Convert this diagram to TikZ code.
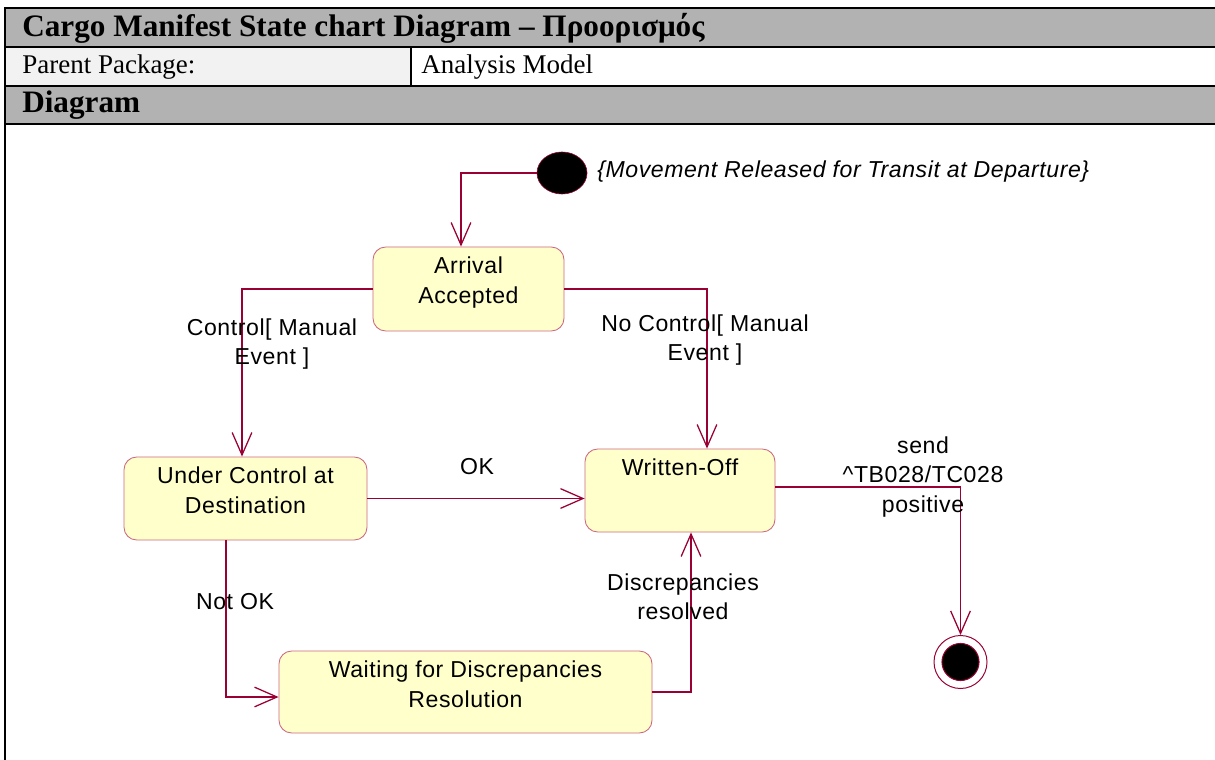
\documentclass[tikz,border=0pt]{standalone}
\usepackage{fontspec}
\setmainfont{Liberation Serif}
\newfontfamily\arialfont[LetterSpace=2.5]{Liberation Sans}
\usetikzlibrary{arrows.meta,calc,shapes.geometric}
\definecolor{wirered}{RGB}{153,0,51}
\definecolor{boxrose}{RGB}{204,102,128}
\definecolor{boxcream}{RGB}{255,255,204}
\definecolor{rowgray}{RGB}{178,178,178}
\definecolor{keygray}{RGB}{242,242,242}
\newlength{\pxu}
\setlength{\pxu}{0.025cm}
\newcommand{\stlines}[3]{\parbox[t][#2\pxu][t]{#1\pxu}{\centering\vspace*{4.6pt}\strut#3}}
\begin{document}
\begin{tikzpicture}[x=0.025cm,y=-0.025cm,
  state/.style={draw=boxrose,fill=boxcream,line width=0.6pt,rounded corners=9pt,inner sep=0pt,font=\arialfont\fontsize{16.4}{20.8}\selectfont},
  wire/.style={draw=wirered,line width=0.9pt,-{Straight Barb[length=16pt,width=14pt]}},
  lbl/.style={font=\arialfont\fontsize{16.4}{20.8}\selectfont,align=center,inner sep=0pt},
  cell/.style={anchor=west,inner sep=0pt,font=\fontsize{19.2}{23}\selectfont},
  headcell/.style={cell,font=\fontsize{22.2}{26}\selectfont\bfseries}]
\useasboundingbox (0,0) rectangle (1215,760);
\fill[rowgray] (5,8) rectangle (1215,47);
\fill[keygray] (5,47) rectangle (411,86);
\fill[rowgray] (5,86) rectangle (1215,124);
\draw[line width=1.5pt] (5,760) -- (5,8) -- (1215,8);
\draw[line width=1.5pt] (5,47) -- (1215,47) (5,86) -- (1215,86) (5,124) -- (1215,124) (411,47) -- (411,86);
\node[headcell] (title) at (22,28) {Cargo Manifest State chart Diagram – Προορισμός};
\node[cell] (pkgkey) at (22,67) {Parent Package:};
\node[cell] (pkgval) at (421,67) {Analysis Model};
\node[headcell] (diaghead) at (22,105) {Diagram};

\node[ellipse,fill=black,draw=wirered,minimum width=35.6pt,minimum height=29.9pt,inner sep=0pt] (init) at (562,173) {};
\node[lbl,anchor=west] (relnote) at (597,172) {\itshape\{Movement Released for Transit at Departure\}};
\node[state] (arrival) at (468.5,289) {\stlines{191}{84}{Arrival\\Accepted}};
\node[state] (underctl) at (245.5,498.5) {\stlines{243}{83}{Under Control at\\Destination}};
\node[state] (written) at (680,490.5) {\stlines{190}{83}{Written-Off}};
\node[state] (waiting) at (465.5,692) {\stlines{373}{82}{Waiting for Discrepancies\\Resolution}};
\node[circle,draw=wirered,line width=0.7pt,minimum size=37.7pt,inner sep=0pt,
  path picture={\filldraw[fill=black,draw=wirered] (path picture bounding box.center) circle (13.2pt);}] (final) at (960.5,662) {};

\draw[wire] (init.west) -| ($(arrival.north)+(-7.5,0)$);
\draw[wire] (arrival.west) -| ($(underctl.north)+(-3.5,0)$);
\draw[wire] (arrival.east) -| ($(written.north)+(27,0)$);
\draw[wire] (underctl.east) -- (underctl.east -| written.west);
\draw[wire] ($(underctl.south)+(-19.5,0)$) |- ($(waiting.west)+(0,5)$);
\draw[wire] (waiting.east) -| ($(written.south)+(11,0)$);
\draw[wire] ($(written.east)+(0,-3.5)$) -| (final.north);

\node[lbl] (ctrllbl) at (272,344) {Control[ Manual\\Event ]};
\node[lbl] (noctrllbl) at (705,340) {No Control[ Manual\\Event ]};
\node[lbl] (oklbl) at (477,467) {OK};
\node[lbl] (notoklbl) at (235,602) {Not OK};
\node[lbl] (resolvlbl) at (683,597) {Discrepancies\\resolved};
\node[lbl] (sendlbl) at (923,477) {send\\\textasciicircum TB028/TC028\\positive};
\end{tikzpicture}
\end{document}
